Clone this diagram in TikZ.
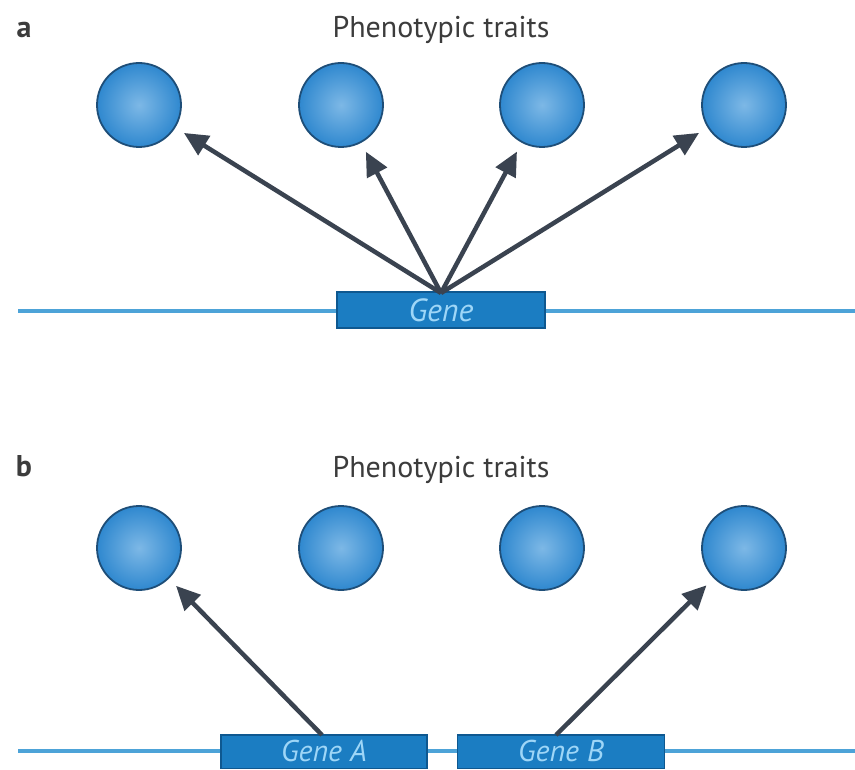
\documentclass[tikz,border=0pt]{standalone}
\usepackage{fontspec}
\setmainfont{PT Sans}
\usetikzlibrary{arrows.meta}
\definecolor{traitfill}{HTML}{2F88CF}
\definecolor{traitcore}{HTML}{7DB8E6}
\definecolor{traitedge}{HTML}{1E4E78}
\definecolor{genefill}{HTML}{1B7DC2}
\definecolor{geneedge}{HTML}{0E5890}
\definecolor{genetext}{HTML}{9ED6F7}
\definecolor{dnaline}{HTML}{4DA3D8}
\definecolor{arrowgray}{HTML}{3A4350}
\definecolor{labelgray}{HTML}{3C3C3C}
\tikzset{
  trait/.style={circle, minimum size=84pt, inner sep=0pt, draw=traitedge, line width=1.8pt,
    inner color=traitcore, outer color=traitfill},
  genebox/.style={rectangle, minimum width=208pt, minimum height=36pt, inner sep=0pt,
    outer sep=0pt, fill=genefill, draw=geneedge, line width=1.2pt, text=genetext,
    font=\fontsize{32}{32}\selectfont\itshape},
  dna/.style={draw=dnaline, line width=3.5pt},
  effect/.style={draw=arrowgray, line width=4.5pt, shorten >=10pt,
    -{Triangle[length=24pt,width=22pt]}},
  panel/.style={font=\fontsize{30}{30}\selectfont\bfseries, text=labelgray},
  heading/.style={font=\fontsize{30}{30}\selectfont, text=labelgray}
}
\begin{document}
\begin{tikzpicture}[x=1pt, y=-1pt]
\useasboundingbox (0,0) rectangle (855,770);
\clip (0,0) rectangle (855,770);
\fill[white] (0,0) rectangle (855,770);

% ---- panel a: one gene, many traits ----
\node[panel] (la) at (24,30) {a};
\node[heading] (ha) at (441,30) {Phenotypic traits};
\node[trait] (a1) at (139,105) {};
\node[trait] (a2) at (341,105) {};
\node[trait] (a3) at (542,105) {};
\node[trait] (a4) at (744,105) {};
\coordinate (dnaAl) at (18,311);
\coordinate (dnaAr) at (855,311);
\draw[dna] (dnaAl) -- (dnaAr);
\node[genebox] (g) at (441,310) {Gene};
\coordinate (gtop) at (441,293);
\draw[effect] (gtop) -- (a1);
\draw[effect] (gtop) -- (a2);
\draw[effect] (gtop) -- (a3);
\draw[effect] (gtop) -- (a4);

% ---- panel b: one gene per trait ----
\node[panel] (lb) at (24,466) {b};
\node[heading] (hb) at (441,470) {Phenotypic traits};
\node[trait] (b1) at (139,548) {};
\node[trait] (b2) at (341,548) {};
\node[trait] (b3) at (542,548) {};
\node[trait] (b4) at (744,548) {};
\coordinate (dnaBl) at (18,751);
\coordinate (dnaBr) at (855,751);
\draw[dna] (dnaBl) -- (dnaBr);
% the gene boxes reach down to the lower edge
\node[genebox, minimum width=206pt, minimum height=33.5pt, anchor=north,
  font=\fontsize{30}{30}\selectfont\itshape] (gA) at (324,735) {\raisebox{2.5pt}{Gene A}};
\node[genebox, minimum width=207pt, minimum height=33.5pt, anchor=north,
  font=\fontsize{30}{30}\selectfont\itshape] (gB) at (561,735) {\raisebox{2.5pt}{Gene B}};
\coordinate (gAtop) at (322,735);
\coordinate (gBtop) at (556,735);
\draw[effect] (gAtop) -- (b1);
\draw[effect] (gBtop) -- (b4);
\end{tikzpicture}
\end{document}
